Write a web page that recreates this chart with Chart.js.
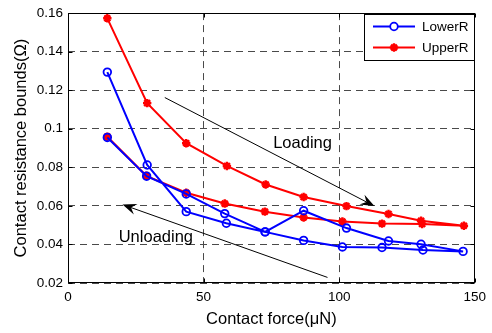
<!DOCTYPE html>
<html>
<head>
<meta charset="utf-8">
<script src="https://cdn.jsdelivr.net/npm/chart.js@4.4.0/dist/chart.umd.min.js"></script>
<style>
  html, body { margin: 0; padding: 0; background: #fff; }
  canvas { display: block; }
</style>
</head>
<body>
<canvas id="graph" width="492" height="333"></canvas>
<script>
// loading sweep first, then unloading back down to the first force
const lowerForce = [14.5, 29.2, 43.6, 58.4, 72.7, 86.9, 102.7, 118.2, 130.2, 145.7, 130.9, 115.8, 101.2, 86.9, 72.7, 57.8, 43.6, 29.0, 14.5];
const lowerR = [0.1294, 0.0812, 0.0570, 0.0510, 0.0465, 0.0575, 0.0485, 0.0418, 0.0401, 0.0364, 0.0371, 0.0384, 0.0387, 0.0421, 0.0465, 0.0560, 0.0662, 0.0754, 0.0955];
const upperForce = [14.5, 29.2, 43.6, 58.6, 72.9, 86.9, 102.7, 118.2, 130.2, 146.0, 130.6, 115.8, 101.2, 86.9, 72.6, 57.8, 43.6, 28.9, 14.5];
const upperR = [0.1573, 0.1133, 0.0925, 0.0807, 0.0711, 0.0646, 0.0599, 0.0558, 0.0523, 0.0497, 0.0506, 0.0508, 0.0519, 0.0540, 0.0570, 0.0612, 0.0668, 0.0756, 0.0959];

const xTicks = [0, 50, 100, 150];
const yTicks = [0.02, 0.04, 0.06, 0.08, 0.1, 0.12, 0.14, 0.16];

// arrows: [x0, y0, x1, y1] in data units, head at the second point
const loadingArrow = [35.7, 0.1162, 113.0, 0.0599];
const unloadingArrow = [95.7, 0.0229, 20.1, 0.0607];
const notes = [
  { text: 'Loading', x: 86.5, y: 0.0925 },
  { text: 'Unloading', x: 32.4, y: 0.0435 }
];

const FONT = '"Liberation Sans", Arial, sans-serif';
Chart.defaults.font.family = FONT;
Chart.defaults.color = '#000';

const toPoints = (xs, ys) => xs.map((x, i) => ({ x: x, y: ys[i] }));

const arrow = (ctx, x0, y0, x1, y1) => {
  const ang = Math.atan2(y1 - y0, x1 - x0);
  const len = 14, half = 5.5, notch = 9;
  const cx = Math.cos(ang), sy = Math.sin(ang);
  ctx.beginPath();
  ctx.moveTo(x0, y0);
  ctx.lineTo(x1 - cx * notch, y1 - sy * notch);
  ctx.stroke();
  const bx = x1 - cx * len, by = y1 - sy * len;
  const nx = -sy * half, ny = cx * half;
  ctx.beginPath();
  ctx.moveTo(x1, y1);
  ctx.lineTo(bx + nx, by + ny);
  ctx.lineTo(x1 - cx * notch, y1 - sy * notch);
  ctx.lineTo(bx - nx, by - ny);
  ctx.closePath();
  ctx.fill();
};

// box, inner tick marks, arrows, notes and the legend
const axesExtras = {
  id: 'axesExtras',
  afterDatasetsDraw(chart) {
    const { ctx, chartArea: a, scales: { x, y } } = chart;
    ctx.save();
    ctx.strokeStyle = '#000';
    ctx.fillStyle = '#000';
    ctx.lineWidth = 1;
    const L = Math.round(a.left) + 0.5, R = Math.round(a.right) - 0.5;
    const T = Math.round(a.top) + 0.5, B = Math.round(a.bottom) - 0.5;
    ctx.strokeRect(L, T, R - L, B - T);
    ctx.beginPath();
    xTicks.forEach((v) => {
      const px = Math.round(x.getPixelForValue(v)) + 0.5;
      ctx.moveTo(px, B); ctx.lineTo(px, B - 4);
      ctx.moveTo(px, T); ctx.lineTo(px, T + 4);
    });
    yTicks.forEach((v) => {
      const py = Math.round(y.getPixelForValue(v)) + 0.5;
      ctx.moveTo(L, py); ctx.lineTo(L + 4, py);
      ctx.moveTo(R, py); ctx.lineTo(R - 4, py);
    });
    ctx.stroke();

    [loadingArrow, unloadingArrow].forEach((p) => {
      arrow(ctx, x.getPixelForValue(p[0]), y.getPixelForValue(p[1]),
        x.getPixelForValue(p[2]), y.getPixelForValue(p[3]));
    });

    ctx.font = '16.5px ' + FONT;
    ctx.textAlign = 'center';
    ctx.textBaseline = 'middle';
    notes.forEach((n) => {
      ctx.fillText(n.text, x.getPixelForValue(n.x), y.getPixelForValue(n.y));
    });

    // legend box, top right corner
    const lx = 364.5, ly = 14.5, lw = 110, lh = 46;
    ctx.fillStyle = '#fff';
    ctx.fillRect(lx, ly, lw, lh);
    ctx.strokeStyle = '#000';
    ctx.strokeRect(lx, ly, lw, lh);
    ctx.font = '13.5px ' + FONT;
    ctx.textAlign = 'left';
    chart.data.datasets.forEach((ds, i) => {
      const ry = 26.5 + i * 21;
      ctx.strokeStyle = ds.borderColor;
      ctx.lineWidth = 2;
      ctx.beginPath();
      ctx.moveTo(373, ry); ctx.lineTo(415, ry);
      ctx.stroke();
      ctx.lineWidth = ds.pointBorderWidth;
      Chart.helpers.drawPoint(ctx, {
        pointStyle: ds.pointStyle, radius: ds.pointRadius, borderWidth: ds.pointBorderWidth, rotation: 0
      }, 394, ry);
      ctx.fillStyle = '#000';
      ctx.fillText(ds.label, 422, ry + 1);
    });
    ctx.restore();
  }
};

new Chart(document.getElementById('graph').getContext('2d'), {
  type: 'line',
  data: {
    datasets: [
      {
        label: 'LowerR',
        data: toPoints(lowerForce, lowerR),
        borderColor: '#0000ff',
        borderWidth: 2,
        pointStyle: 'circle',
        pointRadius: 3.8,
        pointBorderWidth: 1.8,
        pointBorderColor: '#0000ff',
        pointBackgroundColor: 'rgba(0,0,0,0)',
        tension: 0
      },
      {
        label: 'UpperR',
        data: toPoints(upperForce, upperR),
        borderColor: '#ff0000',
        borderWidth: 2,
        pointStyle: 'star',
        pointRadius: 4.2,
        pointBorderWidth: 2.4,
        pointBorderColor: '#ff0000',
        pointBackgroundColor: '#ff0000',
        tension: 0
      }
    ]
  },
  options: {
    responsive: false,
    animation: false,
    devicePixelRatio: 1,
    layout: { padding: { top: 7, right: 12, left: 0, bottom: 0 } },
    plugins: { legend: { display: false }, tooltip: { enabled: false } },
    scales: {
      x: {
        type: 'linear',
        min: 0,
        max: 150,
        afterBuildTicks: (axis) => { axis.ticks = xTicks.map((v) => ({ value: v })); },
        afterFit: (axis) => { axis.height = 50; },
        ticks: { font: { size: 13.5 }, padding: 6, maxRotation: 0, color: '#000' },
        grid: { color: '#4a4a4a', lineWidth: 1, drawTicks: false },
        border: { display: false, dash: [7, 5] },
        title: { display: true, text: 'Contact force(μN)', font: { size: 16.5 }, color: '#000', padding: { top: 0, bottom: 4 } }
      },
      y: {
        min: 0.02,
        max: 0.16,
        afterBuildTicks: (axis) => { axis.ticks = yTicks.map((v) => ({ value: v })); },
        afterFit: (axis) => { axis.width = 68; },
        ticks: { font: { size: 13.5 }, padding: 5, color: '#000', callback: (v) => String(+v.toFixed(2)) },
        grid: { color: '#4a4a4a', lineWidth: 1, drawTicks: false },
        border: { display: false, dash: [7, 5] },
        title: { display: true, text: 'Contact resistance bounds(Ω)', font: { size: 16.5 }, color: '#000', padding: { top: 12, bottom: 0 } }
      }
    }
  },
  plugins: [axesExtras]
});
</script>
</body>
</html>
